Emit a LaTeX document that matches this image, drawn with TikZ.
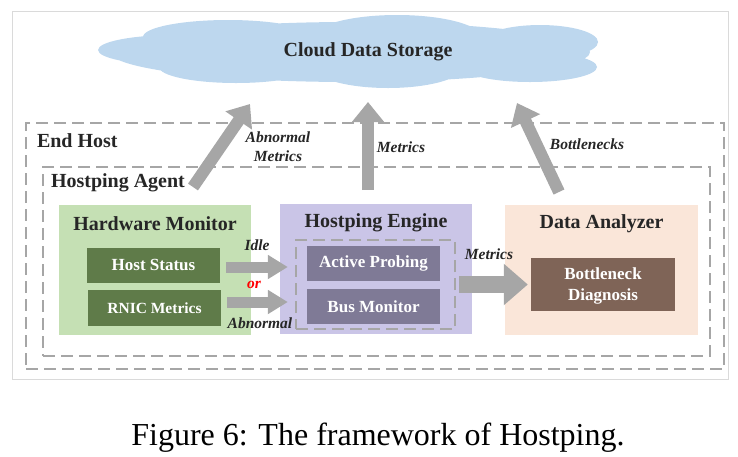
\documentclass[tikz,border=0pt]{standalone}
\usepackage{fontspec}
\setmainfont{Liberation Serif}
\usetikzlibrary{arrows.meta}

\definecolor{cloudblue}{HTML}{BDD7EE}
\definecolor{hwgreen}{HTML}{C5E0B4}
\definecolor{hwdark}{HTML}{5F7B49}
\definecolor{enpurple}{HTML}{CAC5E7}
\definecolor{endark}{HTML}{7F7A96}
\definecolor{anpeach}{HTML}{FAE6D9}
\definecolor{andark}{HTML}{7F6457}
\definecolor{arrgray}{HTML}{A6A6A6}
\definecolor{framegray}{HTML}{DADADA}
\definecolor{txtdark}{HTML}{262626}

\begin{document}
\begin{tikzpicture}[x=1pt, y=-1pt, line cap=butt, line join=miter,
  title/.style={font=\fontsize{20}{24}\selectfont\bfseries, text=txtdark, inner sep=0pt},
  panel/.style={minimum width=192pt, minimum height=130pt, inner sep=0pt},
  inbox/.style={minimum width=133pt, minimum height=35pt, inner sep=0pt, text=white, align=center,
    font=\fontsize{17}{20}\selectfont\bfseries},
  lbl/.style={font=\fontsize{15.5}{19}\selectfont\bfseries\itshape, text=txtdark, inner sep=0pt, align=center},
  dashbox/.style={draw=arrgray, line width=2.4pt, dash pattern=on 12pt off 6pt, inner sep=0pt},
  uparrow/.style={draw=arrgray, line width=12pt, -{Triangle[length=20pt,width=31pt]}},
  sidearrow/.style={draw=arrgray, line width=11pt, -{Triangle[length=20pt,width=23pt]}},
  bigarrow/.style={draw=arrgray, line width=17pt, -{Triangle[length=24pt,width=40pt]}}]

\useasboundingbox (0,0) rectangle (738,456);

\def\titledrop{19pt}

% frame and cloud
\draw[framegray, line width=0.8pt] (12,11) rectangle (728,379);

\fill[cloudblue]
  (350,52) ellipse [x radius=240, y radius=30]
  (175,50) ellipse [x radius=77, y radius=15]
  (228,37) ellipse [x radius=85, y radius=17]
  (397,38) ellipse [x radius=85, y radius=23]
  (540,42) ellipse [x radius=58, y radius=17]
  (530,67) ellipse [x radius=67, y radius=15]
  (388,66) ellipse [x radius=76, y radius=22]
  (236,67) ellipse [x radius=77, y radius=16];
\node[title] (cloud) at (368,52) {Cloud Data Storage};

% dashed containers
\node[dashbox, minimum width=698pt, minimum height=246pt] (endhost) at (375,246) {};
\node[title, anchor=west] (endhosttxt) at ([xshift=12pt,yshift=-19pt]endhost.north west) {End Host};

\node[dashbox, minimum width=667pt, minimum height=189pt] (agent) at (376.5,261.5) {};
\node[title, anchor=west] (agenttxt) at ([xshift=9pt,yshift=-17pt]agent.north west) {Hostping Agent};

% three panels
\node[panel, fill=hwgreen] (hw) at (155,270) {};
\node[title] (hwtxt) at ([yshift=-\titledrop]hw.north) {Hardware Monitor};
\node[inbox, fill=hwdark] (hoststatus) at (153.5,265) {Host Status};
\node[inbox, fill=hwdark, minimum height=36pt, font=\fontsize{15.5}{19}\selectfont\bfseries] (rnic) at (154.5,308) {RNIC Metrics};

\node[panel, fill=enpurple] (engine) at (376,269) {};
\node[title] (enginetxt) at ([yshift=-\titledrop]engine.north) {Hostping Engine};
\node[dashbox, minimum width=159pt, minimum height=89pt] (probe) at (375.5,284.5) {};
\node[inbox, fill=endark] (active) at (373.5,263.5) {Active Probing};
\node[inbox, fill=endark] (bus) at (373.5,306.5) {Bus Monitor};

\node[panel, fill=anpeach, minimum width=193pt] (analyzer) at (601.5,270) {};
\node[title] (analyzertxt) at ([yshift=-\titledrop]analyzer.north) {Data Analyzer};
\node[inbox, fill=andark, minimum width=144pt, minimum height=53pt, text depth=0pt] (diag) at (603,284.5) {Bottleneck\\[1pt]Diagnosis};

% arrows inside the agent
\draw[sidearrow] ([xshift=6pt,yshift=-2pt]hoststatus.east) -- ([xshift=-7pt,yshift=-2pt]hoststatus.east -| probe.west);
\draw[sidearrow] ([xshift=6pt,yshift=6pt]rnic.east) -- ([xshift=-7pt,yshift=6pt]rnic.east -| probe.west);
\node[lbl] (idle) at (257,245) {Idle};
\node[lbl, text=red] (or) at (254,285) {or};
\node[lbl] (abn) at (260,323) {Abnormal};

\draw[bigarrow] ([xshift=3pt]probe.east |- diag.west) -- ([xshift=-3pt]diag.west);
\node[lbl] (metricsin) at (489,254) {Metrics};

% arrows up to the cloud
\coordinate (tailL) at (193,187);
\coordinate (tipL) at (250,104);
\coordinate (tailM) at (368,190);
\coordinate (tipM) at (368,102);
\coordinate (tailR) at (559,192);
\coordinate (tipR) at (517,103);

\draw[uparrow] (tailL) -- (tipL);
\draw[uparrow] (tailM) -- (tipM);
\draw[uparrow] (tailR) -- (tipR);

\node[lbl] (abnmet) at (278,147) {Abnormal\\Metrics};
\node[lbl] (metricsup) at (401,147) {Metrics};
\node[lbl] (bottle) at (587,144) {Bottlenecks};

% caption
\node[font=\fontsize{32}{38}\selectfont, text=black, inner sep=0pt, anchor=base] (caption) at (378,445) {Figure 6: The framework of Hostping.};

\end{tikzpicture}
\end{document}
